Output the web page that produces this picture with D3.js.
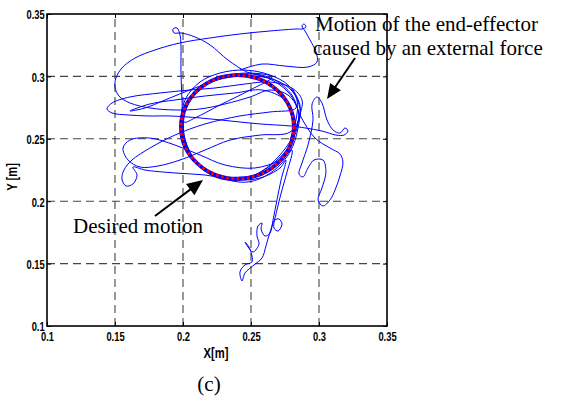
<!DOCTYPE html>
<html>
<head>
<meta charset="utf-8">
<script src="https://cdn.jsdelivr.net/npm/d3@7"></script>
<style>
  body { margin: 0; background: #fff; }
  svg { display: block; }
</style>
</head>
<body>
<svg id="chart" width="561" height="399"></svg>
<script>
// Axis ticks and labels
const xTicks = [0.1, 0.15, 0.2, 0.25, 0.3, 0.35];
const yTicks = [0.1, 0.15, 0.2, 0.25, 0.3, 0.35];
const xTickLabels = ["0.1", "0.15", "0.2", "0.25", "0.3", "0.35"];
const yTickLabels = ["0.1", "0.15", "0.2", "0.25", "0.3", "0.35"];

// Desired circular motion (centre in metres, radius in metres)
const desiredCenter = [0.24, 0.2595];
const desiredRadius = 0.0415;

// End-effector trajectory under the external force, in pieces [x, y] (m)
const hookAndStart = [[0.2419,0.3051],[0.2581,0.3099],[0.2750,0.3083],[0.2919,0.3075],[0.2985,0.3115],[0.2978,0.3196],[0.2934,0.3292],[0.2897,0.3364],[0.2875,0.3404],[0.2890,0.3420],[0.2904,0.3396],[0.2875,0.3380],[0.2838,0.3380]];
const topSweep = [[0.2640,0.3364],[0.2419,0.3340],[0.2199,0.3308],[0.1978,0.3268],[0.1794,0.3212],[0.1647,0.3147],[0.1551,0.3067],[0.1507,0.2987],[0.1500,0.2915],[0.1529,0.2843],[0.1610,0.2787],[0.1757,0.2747],[0.1941,0.2731],[0.2125,0.2739],[0.2309,0.2779],[0.2493,0.2835],[0.2640,0.2891],[0.2772,0.2851],[0.2846,0.2731],[0.2838,0.2587],[0.2787,0.2450],[0.2676,0.2314],[0.2529,0.2210],[0.2382,0.2170],[0.2213,0.2210],[0.2088,0.2330],[0.2015,0.2490],[0.2007,0.2667],[0.2066,0.2827],[0.2184,0.2939],[0.2346,0.3003],[0.2529,0.3019],[0.2676,0.2971],[0.2801,0.2851],[0.2860,0.2691]];
const rightExcursion = [[0.2971,0.2506],[0.3081,0.2426],[0.3154,0.2378],[0.3176,0.2314],[0.3154,0.2202],[0.3118,0.2090],[0.3081,0.2010],[0.3029,0.1962],[0.2993,0.2010],[0.3022,0.2106],[0.3051,0.2234],[0.3029,0.2330],[0.2963,0.2330],[0.2919,0.2266],[0.2882,0.2194],[0.2853,0.2218],[0.2875,0.2306],[0.2919,0.2450],[0.2956,0.2651],[0.2949,0.2779],[0.2985,0.2835],[0.3022,0.2787],[0.3059,0.2651],[0.3103,0.2571],[0.3154,0.2546],[0.3191,0.2587],[0.3213,0.2562],[0.3184,0.2530],[0.3125,0.2530],[0.3022,0.2562],[0.2897,0.2587],[0.2787,0.2603]];
const leftLoop = [[0.2566,0.2619],[0.2346,0.2643],[0.2125,0.2667],[0.1904,0.2683],[0.1743,0.2683],[0.1596,0.2691],[0.1478,0.2707],[0.1441,0.2739],[0.1478,0.2787],[0.1610,0.2835],[0.1831,0.2867],[0.2051,0.2891],[0.2235,0.2907],[0.2456,0.2939],[0.2640,0.2955],[0.2801,0.2907],[0.2875,0.2811]];
const innerLap = [[0.2853,0.2667],[0.2801,0.2506],[0.2706,0.2362],[0.2581,0.2242],[0.2419,0.2170],[0.2257,0.2186],[0.2125,0.2274],[0.2044,0.2410],[0.2000,0.2587],[0.2022,0.2779],[0.2118,0.2915],[0.2279,0.2995],[0.2478,0.3027],[0.2654,0.2995]];
const upperSpike = [[0.2493,0.2891],[0.2272,0.2771],[0.2088,0.2667],[0.2007,0.2635],[0.1993,0.2811],[0.1985,0.3051],[0.1985,0.3252],[0.1978,0.3332],[0.1956,0.3388],[0.1926,0.3380],[0.1934,0.3348],[0.1985,0.3348],[0.2088,0.3316],[0.2199,0.3252],[0.2331,0.3131],[0.2471,0.3035],[0.2625,0.2987],[0.2772,0.2875],[0.2831,0.2747]];
const lowerLeftLoop = [[0.2640,0.2715],[0.2419,0.2683],[0.2162,0.2619],[0.1941,0.2530],[0.1757,0.2426],[0.1625,0.2330],[0.1566,0.2250],[0.1551,0.2178],[0.1581,0.2122],[0.1632,0.2138],[0.1662,0.2210],[0.1632,0.2274],[0.1721,0.2250],[0.1941,0.2226],[0.2162,0.2210],[0.2382,0.2170],[0.2566,0.2186],[0.2713,0.2266]];
const lowerTail = [[0.2757,0.2330],[0.2721,0.2170],[0.2691,0.2010],[0.2662,0.1849],[0.2640,0.1745],[0.2603,0.1721],[0.2574,0.1777],[0.2581,0.1825],[0.2551,0.1801],[0.2544,0.1721],[0.2559,0.1657],[0.2515,0.1593],[0.2478,0.1633],[0.2456,0.1673],[0.2485,0.1633],[0.2507,0.1561],[0.2507,0.1513],[0.2456,0.1489],[0.2419,0.1433],[0.2434,0.1361],[0.2456,0.1425],[0.2522,0.1489],[0.2581,0.1545],[0.2610,0.1641],[0.2640,0.1753],[0.2676,0.1849],[0.2706,0.1857],[0.2728,0.1817],[0.2699,0.1761],[0.2669,0.1785],[0.2691,0.1929],[0.2728,0.2090],[0.2765,0.2234],[0.2801,0.2410]];
const crossingSweep = [[0.2713,0.2330],[0.2529,0.2266],[0.2309,0.2290],[0.2125,0.2370],[0.1941,0.2450],[0.1757,0.2506],[0.1610,0.2490],[0.1559,0.2426],[0.1596,0.2330],[0.1684,0.2274],[0.1816,0.2282],[0.1978,0.2330],[0.2162,0.2410],[0.2346,0.2490],[0.2566,0.2530],[0.2787,0.2554]];
const finalLap = [[0.2860,0.2691],[0.2824,0.2851],[0.2713,0.2955],[0.2529,0.3003],[0.2309,0.2987],[0.2088,0.2907],[0.1868,0.2811],[0.1721,0.2747],[0.1610,0.2723],[0.1757,0.2779],[0.1941,0.2811],[0.2162,0.2843],[0.2382,0.2867],[0.2581,0.2891],[0.2750,0.2811],[0.2824,0.2651],[0.2787,0.2490]];
const settlingLap = [[0.2831,0.2651],[0.2838,0.2811],[0.2772,0.2931],[0.2640,0.3011],[0.2456,0.3051],[0.2272,0.3027],[0.2125,0.2955],[0.2022,0.2827],[0.1985,0.2651],[0.2022,0.2450],[0.2125,0.2290],[0.2287,0.2186],[0.2478,0.2154],[0.2654,0.2234],[0.2787,0.2394],[0.2846,0.2587],[0.2860,0.2771],[0.2801,0.2907]];

// Annotations: arrow tail and tip in metres
const forceArrow = { from: [0.3265, 0.3147], to: [0.3059, 0.2819] };
const desiredArrow = { from: [0.1794, 0.1881], to: [0.2147, 0.2170] };

const svg = d3.select("#chart");
const frame = { left: 47, right: 387, top: 14, bottom: 326 };

const x = d3.scaleLinear().domain([0.1, 0.35]).range([frame.left, frame.right]);
const y = d3.scaleLinear().domain([0.1, 0.35]).range([frame.bottom, frame.top]);

svg.append("rect").attr("width", 561).attr("height", 399).attr("fill", "#fff");

// Dashed grid
const grid = svg.append("g").attr("stroke", "#444").attr("stroke-width", 1.1)
  .attr("stroke-dasharray", "8,5");
grid.selectAll(".gx").data(xTicks.slice(1, -1)).join("line")
  .attr("x1", d => x(d)).attr("x2", d => x(d))
  .attr("y1", frame.bottom).attr("y2", frame.top);
grid.selectAll(".gy").data(yTicks.slice(1, -1)).join("line")
  .attr("y1", d => y(d)).attr("y2", d => y(d))
  .attr("x1", frame.left).attr("x2", frame.right);

// Trajectory
const trajectory = [].concat(hookAndStart, topSweep, rightExcursion, leftLoop, innerLap,
  upperSpike, lowerLeftLoop, lowerTail, crossingSweep, finalLap, settlingLap);
const line = d3.line().x(d => x(d[0])).y(d => y(d[1])).curve(d3.curveCatmullRom.alpha(0.5));

// Tracked circle (blue band) and desired circle (red dots)
const cx = x(desiredCenter[0]), cy = y(desiredCenter[1]);
const rx = x(desiredCenter[0] + desiredRadius) - cx;
const ry = cy - y(desiredCenter[1] + desiredRadius);
svg.append("ellipse").attr("cx", cx).attr("cy", cy).attr("rx", rx).attr("ry", ry)
  .attr("fill", "none").attr("stroke", "#0000ff").attr("stroke-width", 3.8);

svg.append("path").datum(trajectory).attr("d", line)
  .attr("fill", "none").attr("stroke", "#0000ff").attr("stroke-width", 1)
  .attr("stroke-linejoin", "round");

svg.append("ellipse").attr("cx", cx).attr("cy", cy).attr("rx", rx).attr("ry", ry)
  .attr("fill", "none").attr("stroke", "#ff0000").attr("stroke-width", 2.8)
  .attr("stroke-dasharray", "2.6,2.6");

// Axes with inward ticks on all four sides
const tickFont = "'Liberation Sans', Arial, Helvetica, sans-serif";
const axBottom = svg.append("g").attr("transform", `translate(0,${frame.bottom})`)
  .call(d3.axisBottom(x).tickValues(xTicks).tickSize(-4).tickPadding(6)
    .tickFormat((d, i) => xTickLabels[i]));
const axLeft = svg.append("g").attr("transform", `translate(${frame.left},0)`)
  .call(d3.axisLeft(y).tickValues(yTicks).tickSize(-4).tickPadding(3)
    .tickFormat((d, i) => yTickLabels[i]));
const axTop = svg.append("g").attr("transform", `translate(0,${frame.top})`)
  .call(d3.axisTop(x).tickValues(xTicks).tickSize(-4).tickFormat(""));
const axRight = svg.append("g").attr("transform", `translate(${frame.right},0)`)
  .call(d3.axisRight(y).tickValues(yTicks).tickSize(-4).tickFormat(""));

[axBottom, axLeft, axTop, axRight].forEach(g => {
  g.select(".domain").remove();
  g.selectAll(".tick line").attr("stroke", "#000").attr("stroke-width", 1);
});
axBottom.selectAll(".tick text")
  .attr("font-family", tickFont).attr("font-weight", "bold").attr("font-size", 12)
  .attr("fill", "#000").attr("transform", "scale(0.78,1)");
axLeft.selectAll(".tick text")
  .attr("font-family", tickFont).attr("font-weight", "bold").attr("font-size", 12)
  .attr("fill", "#000").attr("x", -3).attr("dy", "0.4em")
  .attr("transform", "scale(0.78,1)");

// Frame
svg.append("rect").attr("x", frame.left).attr("y", frame.top)
  .attr("width", frame.right - frame.left).attr("height", frame.bottom - frame.top)
  .attr("fill", "none").attr("stroke", "#000").attr("stroke-width", 1.6);

// Axis titles
svg.append("text").attr("transform", "translate(216,358) scale(0.8,1)")
  .attr("text-anchor", "middle").attr("font-family", tickFont)
  .attr("font-weight", "bold").attr("font-size", 14).text("X[m]");
svg.append("text").attr("transform", "translate(17,177) rotate(-90) scale(0.8,1)")
  .attr("text-anchor", "middle").attr("font-family", tickFont)
  .attr("font-weight", "bold").attr("font-size", 14).text("Y [m]");

// Annotations
const serif = "'Liberation Serif', 'Times New Roman', Times, serif";
svg.append("text").attr("x", 315).attr("y", 31).attr("font-family", serif)
  .attr("font-size", 21).text("Motion of the end-effector");
svg.append("text").attr("x", 313).attr("y", 55).attr("font-family", serif)
  .attr("font-size", 21).text("caused by an external force");
svg.append("text").attr("x", 73).attr("y", 233).attr("font-family", serif)
  .attr("font-size", 21).text("Desired motion");
svg.append("text").attr("x", 209).attr("y", 391).attr("text-anchor", "middle")
  .attr("font-family", serif).attr("font-size", 21).text("(c)");

function drawArrow(a, headLen, headHalf) {
  const x0 = x(a.from[0]), y0 = y(a.from[1]);
  const x1 = x(a.to[0]), y1 = y(a.to[1]);
  const dx = x1 - x0, dy = y1 - y0, len = Math.hypot(dx, dy);
  const ux = dx / len, uy = dy / len;
  const bx = x1 - ux * headLen, by = y1 - uy * headLen;
  svg.append("line").attr("x1", x0).attr("y1", y0).attr("x2", bx + ux * 2).attr("y2", by + uy * 2)
    .attr("stroke", "#000").attr("stroke-width", 2);
  svg.append("polygon")
    .attr("points", [[x1, y1], [bx - uy * headHalf, by + ux * headHalf], [bx + uy * headHalf, by - ux * headHalf]]
      .map(p => p.join(",")).join(" "))
    .attr("fill", "#000");
}
drawArrow(forceArrow, 15, 6.5);
drawArrow(desiredArrow, 16, 7);
</script>
</body>
</html>
